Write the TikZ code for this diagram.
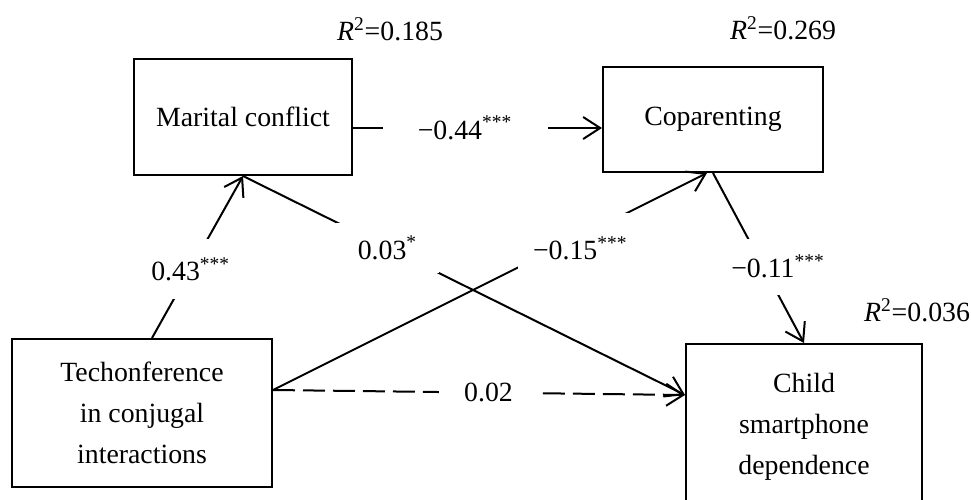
\documentclass[tikz,border=0pt]{standalone}
\usepackage{fontspec}
\setmainfont{Liberation Serif}
\usetikzlibrary{arrows.meta}

\tikzset{
  box/.style={draw, line width=1pt, align=center, inner sep=0pt},
  arr/.style={line width=1pt, -{Straight Barb[length=8.5pt,width=11pt]}},
  coef/.style={fill=white, inner sep=0pt},
}

\begin{document}
\begin{tikzpicture}[x=0.5pt, y=-0.5pt, font=\fontsize{13.9}{20.5}\selectfont]
\clip (0,0) rectangle (971,499);
\node[box, minimum width=109pt, minimum height=58pt] (mar) at (243,117) {Marital conflict};
\node[box, minimum width=110pt, minimum height=52.5pt] (cop) at (713,119.5) {Coparenting};
\node[box, minimum width=130pt, minimum height=74pt] (tech) at (142,413) {Techonference\\ in conjugal\\ interactions};
\node[box, minimum width=118pt, minimum height=83pt] (child) at (804,427) {Child\\ smartphone\\ dependence};
\node (rmar) at (390,29) {\textit{R}\textsuperscript{2}=0.185};
\node (rcop) at (783,28) {\textit{R}\textsuperscript{2}=0.269};
\node (rchild) at (917,310) {\textit{R}\textsuperscript{2}=0.036};
\coordinate (mc) at ([yshift=-5.5pt]mar.east);
\coordinate (tc) at ([yshift=11.5pt]tech.east);
\coordinate (cc) at ([yshift=16pt]child.west);
\draw[arr] (mc) -- node[coef, pos=0.45, minimum width=82.5pt, minimum height=14pt] {−0.44\textsuperscript{***}} (mc -| cop.west);
\draw[arr] ([xshift=5pt]tech.north) -- node[coef, pos=0.425, minimum width=40pt, minimum height=30pt] {0.43\textsuperscript{***}} (mar.south);
\draw[arr] (mar.south) -- node[coef, pos=0.327, minimum width=51.5pt, minimum height=25pt] {0.03\textsuperscript{*}} (cc);
\draw[arr] (tc) -- node[coef, pos=0.708, yshift=-6pt, minimum width=62pt, minimum height=35pt] {−0.15\textsuperscript{***}} ([xshift=-3pt]cop.south);
\draw[arr] (cop.south) -- node[coef, pos=0.55, xshift=7.5pt, minimum width=50pt, minimum height=28pt] {−0.11\textsuperscript{***}} (child.north);
\draw[arr, dash pattern=on 11pt off 4pt] (tc) -- node[coef, pos=0.523, minimum width=49.5pt, minimum height=14pt] {0.02} (cc);
\end{tikzpicture}
\end{document}
